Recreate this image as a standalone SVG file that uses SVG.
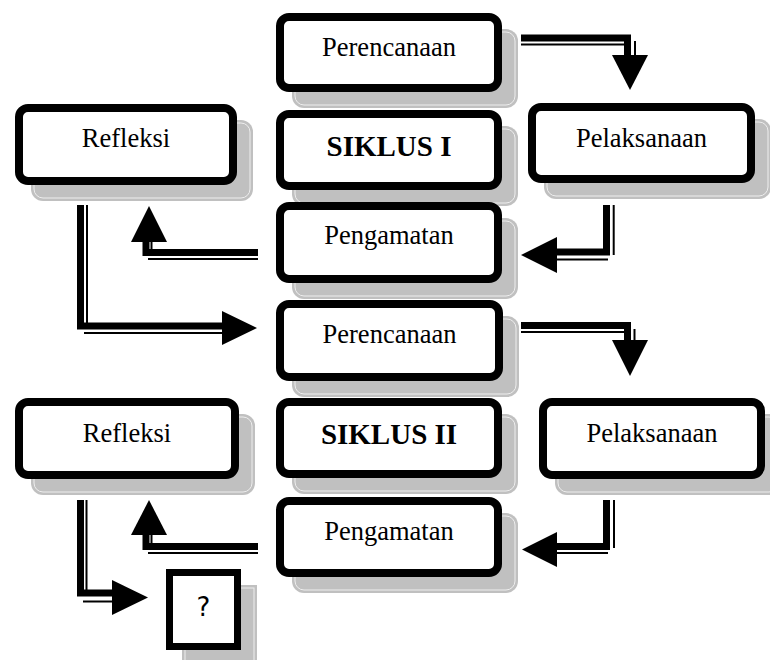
<svg xmlns="http://www.w3.org/2000/svg" width="770" height="660" viewBox="0 0 770 660">
<defs>
<style>
.sh{fill:#c0c0c0;stroke:none}
.shl{fill:none;stroke:#eeeeee;stroke-width:1}
.bx{fill:#ffffff;stroke:#000000;stroke-width:8}
.t{font-family:"Liberation Serif","Times New Roman",serif;font-size:26.5px;fill:#000;text-anchor:middle}
.tb{font-family:"Liberation Serif","Times New Roman",serif;font-size:29px;font-weight:bold;fill:#000;text-anchor:middle}
.tq{font-family:"DejaVu Sans","Liberation Sans",sans-serif;font-size:26px;fill:#000;text-anchor:middle}
.tk{fill:none;stroke:#000;stroke-width:7;stroke-linejoin:miter;stroke-linecap:butt}
.tn{fill:none;stroke:#000;stroke-width:2;stroke-linecap:butt}
.hd{fill:#000;stroke:none}
</style>
</defs>
<rect width="770" height="660" fill="#ffffff"/>

<g id="perencanaan1">
<rect class="sh" x="292" y="29" width="226" height="79" rx="12"/>
<rect class="shl" x="295" y="32" width="220" height="73" rx="9"/>
<rect class="bx" x="280" y="17" width="218" height="71" rx="9"/>
<text class="t" x="389" y="56">Perencanaan</text>
</g>

<g id="siklus1">
<rect class="sh" x="292" y="126" width="226" height="80" rx="12"/>
<rect class="shl" x="295" y="129" width="220" height="74" rx="9"/>
<rect class="bx" x="280" y="114" width="218" height="72" rx="9"/>
<text class="tb" x="389" y="156">SIKLUS I</text>
</g>

<g id="pengamatan1">
<rect class="sh" x="292" y="218" width="226" height="81" rx="12"/>
<rect class="shl" x="295" y="221" width="220" height="75" rx="9"/>
<rect class="bx" x="280" y="206" width="218" height="73" rx="9"/>
<text class="t" x="389" y="244">Pengamatan</text>
</g>

<g id="refleksi1">
<rect class="sh" x="31" y="120" width="222" height="81" rx="12"/>
<rect class="shl" x="34" y="123" width="216" height="75" rx="9"/>
<rect class="bx" x="19" y="108" width="214" height="73" rx="9"/>
<text class="t" x="126" y="147">Refleksi</text>
</g>

<g id="pelaksanaan1">
<rect class="sh" x="544" y="119" width="227" height="80" rx="12"/>
<rect class="shl" x="547" y="122" width="221" height="74" rx="9"/>
<rect class="bx" x="532" y="107" width="219" height="72" rx="9"/>
<text class="t" x="641.5" y="147">Pelaksanaan</text>
</g>

<g id="perencanaan2">
<rect class="sh" x="292" y="316" width="227" height="81" rx="12"/>
<rect class="shl" x="295" y="319" width="221" height="75" rx="9"/>
<rect class="bx" x="280" y="304" width="219" height="73" rx="9"/>
<text class="t" x="389.5" y="343">Perencanaan</text>
</g>

<g id="siklus2">
<rect class="sh" x="292" y="414" width="226" height="80" rx="12"/>
<rect class="shl" x="295" y="417" width="220" height="74" rx="9"/>
<rect class="bx" x="280" y="402" width="218" height="72" rx="9"/>
<text class="tb" x="389" y="444">SIKLUS II</text>
</g>

<g id="pengamatan2">
<rect class="sh" x="292" y="513" width="226" height="80" rx="12"/>
<rect class="shl" x="295" y="516" width="220" height="74" rx="9"/>
<rect class="bx" x="280" y="501" width="218" height="72" rx="9"/>
<text class="t" x="389" y="540">Pengamatan</text>
</g>

<g id="refleksi2">
<rect class="sh" x="31" y="414" width="224" height="81" rx="12"/>
<rect class="shl" x="34" y="417" width="218" height="75" rx="9"/>
<rect class="bx" x="19" y="402" width="216" height="73" rx="9"/>
<text class="t" x="127" y="442">Refleksi</text>
</g>

<g id="pelaksanaan2">
<rect class="sh" x="555" y="414" width="226" height="81" rx="12"/>
<rect class="shl" x="558" y="417" width="220" height="75" rx="9"/>
<rect class="bx" x="543" y="402" width="218" height="73" rx="9"/>
<text class="t" x="652" y="442">Pelaksanaan</text>
</g>

<g id="question">
<rect class="sh" x="182" y="585" width="75" height="81"/>
<rect class="shl" x="185" y="588" width="69" height="75"/>
<rect x="169.5" y="572.5" width="68" height="74" fill="#ffffff" stroke="#000" stroke-width="7"/>
<text class="tq" x="203.5" y="616">?</text>
</g>

<g id="connectors">
<!-- Perencanaan1 -> Pelaksanaan1 -->
<path class="tk" d="M521,38 H627.5 V55"/>
<path class="tn" d="M521,44.5 H625"/>
<path class="tn" d="M635,41 V55"/>
<polygon class="hd" points="612,55 648,55 630,90"/>
<!-- Pelaksanaan1 -> Pengamatan1 -->
<path class="tk" d="M557,252 H606.5 V205"/>
<path class="tn" d="M557,259.5 H608"/>
<path class="tn" d="M613.7,205 V255"/>
<polygon class="hd" points="521,255 557,237 557,273"/>
<!-- Pengamatan1 -> Refleksi1 -->
<path class="tk" d="M258,252.5 H146 V242"/>
<path class="tn" d="M148,259 H258"/>
<path class="tn" d="M151.5,242 V250"/>
<polygon class="hd" points="149,206 131,242 167,242"/>
<!-- Refleksi1 -> Perencanaan2 -->
<path class="tk" d="M80.5,205 V326 H223"/>
<path class="tn" d="M87,205 V323"/>
<path class="tn" d="M84,333 H223"/>
<polygon class="hd" points="222,311 222,345 257,328"/>
<!-- Perencanaan2 -> Pelaksanaan2 -->
<path class="tk" d="M521,325.5 H627.5 V340"/>
<path class="tn" d="M521,332 H625"/>
<path class="tn" d="M634.5,329 V340"/>
<polygon class="hd" points="612,340 648,340 630,376"/>
<!-- Pelaksanaan2 -> Pengamatan2 -->
<path class="tk" d="M557,546.5 H606.5 V500"/>
<path class="tn" d="M557,553 H608"/>
<path class="tn" d="M614,500 V548"/>
<polygon class="hd" points="522,549.5 557,532 557,567"/>
<!-- Pengamatan2 -> Refleksi2 -->
<path class="tk" d="M258,546.5 H146 V535"/>
<path class="tn" d="M148,553 H258"/>
<path class="tn" d="M151.5,535 V543"/>
<polygon class="hd" points="149,500 131,535 167,535"/>
<!-- Refleksi2 -> ? -->
<path class="tk" d="M80.5,500 V593 H113"/>
<path class="tn" d="M86.5,500 V590"/>
<path class="tn" d="M83,601.5 H113"/>
<polygon class="hd" points="112,580 112,615 148,597.5"/>
</g>
</svg>
